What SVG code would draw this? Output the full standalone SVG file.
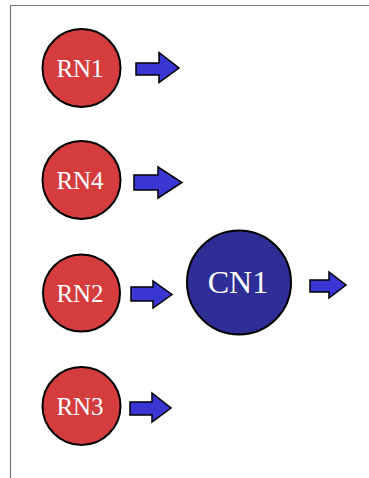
<svg xmlns="http://www.w3.org/2000/svg" width="369" height="478" viewBox="0 0 369 478">
  <style>
    .frame { fill: none; stroke: #777; stroke-width: 1.2; }
    .rn { fill: #d43c3d; stroke: #000; stroke-width: 2; }
    .cn { fill: #2e2e96; stroke: #000; stroke-width: 2; }
    .arrow { fill: #3a36d4; stroke: #000; stroke-width: 1.5; stroke-linejoin: miter; }
    .lbl { font-family: "Liberation Serif", "Times New Roman", serif; fill: #fff; text-anchor: middle; }
    .rl { font-size: 25px; }
    .cl { font-size: 32px; }
  </style>
  <rect width="369" height="478" fill="#fff"/>
  <path class="frame" d="M369,5.5 H10.5 V478"/>

  <g id="RN1">
    <circle class="rn" cx="81.5" cy="68" r="39"/>
    <text class="lbl rl" x="80" y="77">RN1</text>
  </g>
  <g id="RN4">
    <circle class="rn" cx="81.5" cy="180" r="39"/>
    <text class="lbl rl" x="80" y="189">RN4</text>
  </g>
  <g id="RN2">
    <circle class="rn" cx="81.5" cy="293" r="38.5"/>
    <text class="lbl rl" x="80" y="302">RN2</text>
  </g>
  <g id="RN3">
    <circle class="rn" cx="81.5" cy="406" r="39"/>
    <text class="lbl rl" x="80" y="415">RN3</text>
  </g>
  <g id="CN1">
    <circle class="cn" cx="239" cy="282.5" r="52"/>
    <text class="lbl cl" x="238" y="293">CN1</text>
  </g>

  <g id="connectors">
    <!-- block arrows: shaft then triangular head -->
    <path class="arrow" d="M136,63 H159 V52.5 L179,68 L159,82.5 V75 H136 Z"/>
    <path class="arrow" d="M134,175 H158 V167 L182,182.5 L158,198 V190 H134 Z"/>
    <path class="arrow" d="M131,287 H153 V281 L172,294.5 L153,308 V301 H131 Z"/>
    <path class="arrow" d="M130,402 H152 V393 L171,408 L152,422 V415 H130 Z"/>
    <path class="arrow" d="M310,280 H329 V272 L346,285 L329,298 V292 H310 Z"/>
  </g>
</svg>
